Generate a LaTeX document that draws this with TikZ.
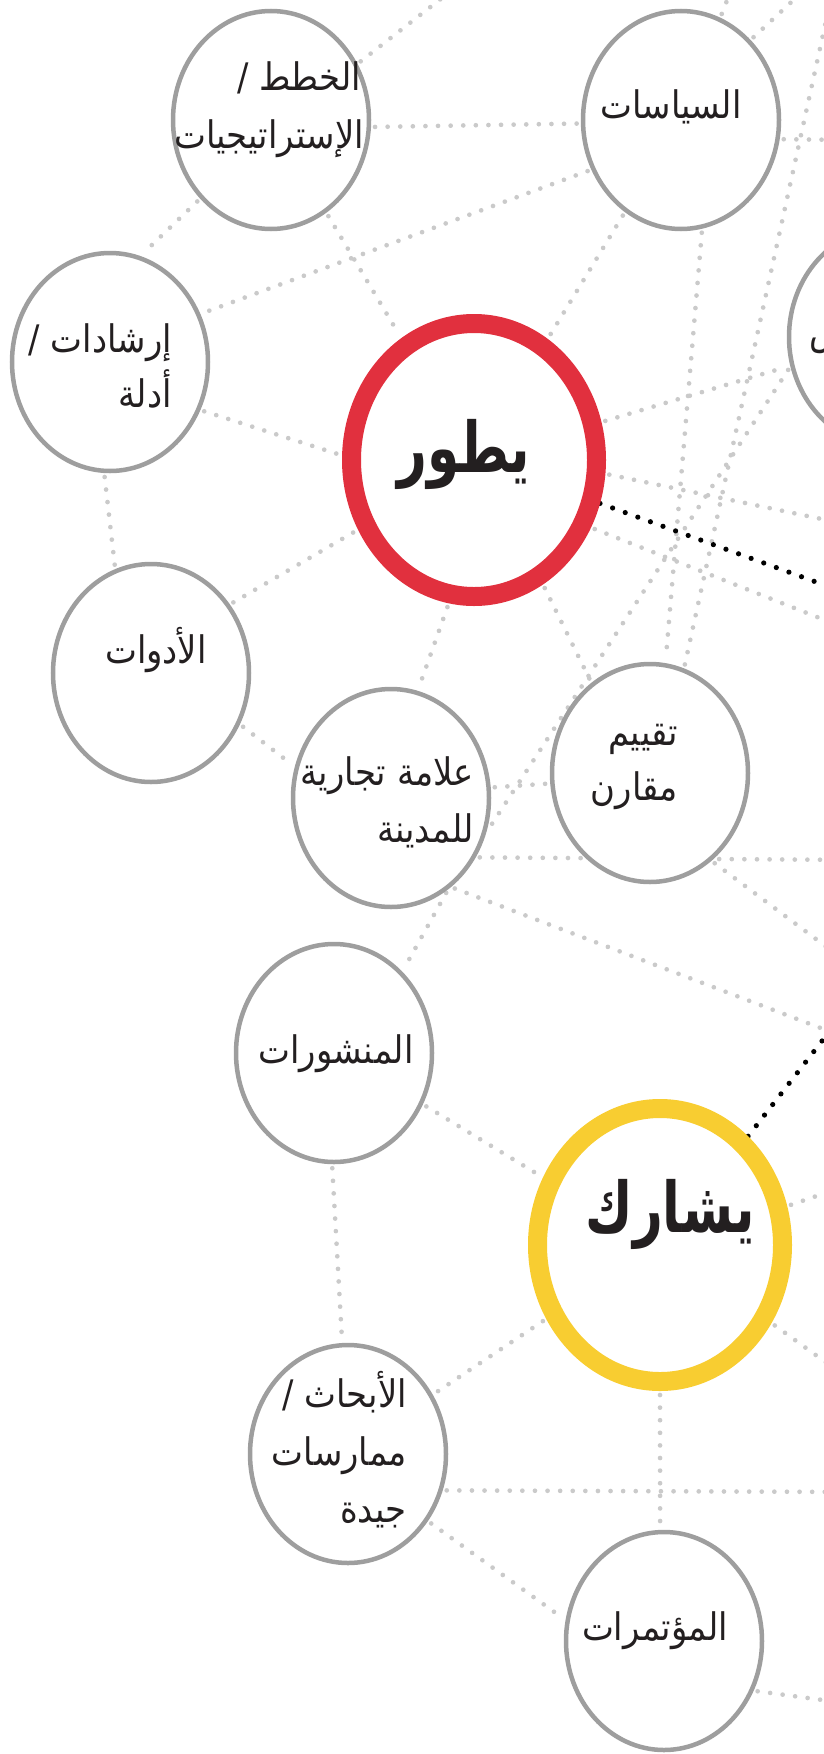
\documentclass[tikz,border=0pt]{standalone}
\usepackage{fontspec}
\newfontfamily\arfont[Script=Arabic]{DejaVu Sans}
\TeXXeTstate=1
\usetikzlibrary{shapes.geometric,backgrounds}
\definecolor{ringgray}{RGB}{158,158,158}
\definecolor{dotgray}{RGB}{202,202,202}
\definecolor{devred}{RGB}{225,48,62}
\definecolor{shareyellow}{RGB}{248,205,49}
\definecolor{ink}{RGB}{35,31,32}
\newcommand{\rtl}[1]{\scalebox{1}[1.12]{\beginR#1\endR}}
\newcommand{\rtlbig}[1]{\scalebox{1}[1.35]{\beginR#1\endR}}

\begin{document}
\begin{tikzpicture}[x=1bp,y=-1bp,
  topic/.style={ellipse, draw=ringgray, line width=4.5bp, fill=white,
    minimum width=196bp, minimum height=218bp, inner sep=0pt},
  verb/.style={ellipse, line width=19bp, fill=white,
    minimum width=245bp, minimum height=273bp, inner sep=0pt},
  lbl/.style={text=ink, font=\arfont\fontsize{34}{40}\selectfont, inner sep=0pt},
  verblbl/.style={text=ink, font=\arfont\bfseries\fontsize{52}{60}\selectfont, inner sep=0pt},
  link/.style={dotgray, line width=4.7bp, line cap=round,
    dash pattern=on 0bp off 12.6bp, shorten <=4bp, shorten >=4bp},
  outlink/.style={link, shorten >=0bp},
  strong/.style={black, line width=5.2bp, line cap=round,
    dash pattern=on 0bp off 13.4bp}]

\useasboundingbox (0,0) rectangle (824,1754);
\clip (0,0) rectangle (824,1754);

% topic and verb nodes
\node[topic] (khutat)    at (271,120)  {};
\node[topic] (siyasat)   at (681,120)  {};
\node[topic] (maqayis)   at (887,337)  {};
\node[topic] (irshadat)  at (110,362)  {};
\node[verb, draw=devred] (yutawir) at (474,460) {};
\node[topic] (adawat)    at (151,673)  {};
\node[topic] (alama)     at (391,798)  {};
\node[topic] (taqyim)    at (650,773)  {};
\node[topic] (manshurat) at (334,1053) {};
\node[verb, draw=shareyellow] (yusharik) at (660,1245) {};
\node[topic] (abhath)    at (348,1454) {};
\node[topic] (mutamarat) at (664,1641) {};

% labels
\node[lbl, anchor=base east] (khutat1) at (361,90)  {\rtl{الخطط /}};
\node[lbl, anchor=base east] (khutat2) at (364,148) {\rtl{الإستراتيجيات}};
\node[lbl, anchor=base] (siyasat1) at (671,118) {\rtl{السياسات}};
\node[lbl, anchor=base west] (maqayis1) at (809,344) {\rtl{المقاييس}};
\node[lbl, anchor=base east] (irshadat1) at (172,352) {\rtl{إرشادات /}};
\node[lbl, anchor=base east] (irshadat2) at (172,407) {\rtl{أدلة}};
\node[verblbl, anchor=base] (yutawir1) at (464,472) {\rtlbig{يطور}};
\node[lbl, anchor=base] (adawat1) at (156,663) {\rtl{الأدوات}};
\node[lbl, anchor=base east] (alama1) at (474,785) {\rtl{علامة تجارية}};
\node[lbl, anchor=base east] (alama2) at (474,842) {\rtl{للمدينة}};
\node[lbl, anchor=base east] (taqyim1) at (678,745) {\rtl{تقييم}};
\node[lbl, anchor=base east] (taqyim2) at (678,800) {\rtl{مقارن}};
\node[lbl, anchor=base] (manshurat1) at (336,1063) {\rtl{المنشورات}};
\node[verblbl, anchor=base] (yusharik1) at (670,1232) {\rtlbig{يشارك}};
\node[lbl, anchor=base east] (abhath1) at (407,1407) {\rtl{الأبحاث /}};
\node[lbl, anchor=base east] (abhath2) at (407,1465) {\rtl{ممارسات}};
\node[lbl, anchor=base east] (abhath3) at (407,1522) {\rtl{جيدة}};
\node[lbl, anchor=base] (mutamarat1) at (655,1640) {\rtl{المؤتمرات}};

% loose ends of links leaving the sheet
\coordinate (offK)   at (465,-20);
\coordinate (offS1)  at (735,-20);
\coordinate (offS2)  at (815,-20);
\coordinate (offS3)  at (850,140);
\coordinate (offT1)  at (835,-20);
\coordinate (offY1)  at (860,527);
\coordinate (offY2)  at (860,634);
\coordinate (offYb)  at (860,598);
\coordinate (offB1)  at (860,860);
\coordinate (offB2)  at (860,1043);
\coordinate (offT2)  at (860,972);
\coordinate (offShb) at (860,992);
\coordinate (offSh1) at (860,1181);
\coordinate (offSh2) at (860,1387);
\coordinate (offR)   at (860,1492);
\coordinate (offC)   at (860,1705);

\begin{pgfonlayer}{background}
\begin{scope}
\clip (0,0) rectangle (824,1754);
% grey dotted links
\draw[outlink] (khutat.33) -- (offK);
\draw[link] (khutat.-4) -- (siyasat.182);
\draw[link] (khutat.228) -- (irshadat.74);
\draw[link] (siyasat.209) -- (irshadat.28);
\draw[link] (khutat) -- (yutawir);
\draw[link] (siyasat) -- (yutawir);
\draw[link] (siyasat.-79) -- (taqyim.82);
\draw[outlink] (taqyim.72) -- (offT1);
\draw[outlink] (siyasat.69) -- (offS1);
\draw[outlink] (siyasat.49) -- (offS2);
\draw[outlink] (siyasat.-11) -- (offS3);
\draw[link] (yutawir) -- (maqayis);
\draw[link] (maqayis.197) -- (alama.-20);
\draw[outlink] (yutawir.-6) -- (offY1);
\draw[outlink] (yutawir.-30) -- (offY2);
\draw[link] (yutawir.-61) -- (taqyim.123);
\draw[link] (irshadat.-93) -- (adawat.109);
\draw[link] (irshadat.-28) -- (yutawir.178);
\draw[link] (adawat.41) -- (yutawir.211);
\draw[link] (adawat.-30) -- (alama.162);
\draw[link] (yutawir.-100) -- (alama.76);
\draw[link] (alama.6) -- (taqyim.186);
\draw[outlink] (alama.-35) -- (offB1);
\draw[outlink] (alama.-56) -- (offB2);
\draw[outlink] (taqyim.-55) -- (offT2);
\draw[link] (alama.-58) -- (manshurat.50);
\draw[link] (manshurat.-30) -- (yusharik.150);
\draw[link] (manshurat.-91) -- (abhath.93);
\draw[link] (yusharik.213) -- (abhath.35);
\draw[link] (yusharik.-90) -- (mutamarat.92);
\draw[outlink] (yusharik.17) -- (offSh1);
\draw[outlink] (yusharik.-35) -- (offSh2);
\draw[outlink] (abhath.-21) -- (offR);
\draw[link] (abhath.-40) -- (mutamarat.168);
\draw[outlink] (mutamarat.-29) -- (offC);
% black dotted links
\draw[strong] (yutawir.-19) -- (offYb);
\draw[strong] (yusharik.51) -- (offShb);
\end{scope}
\end{pgfonlayer}
\end{tikzpicture}
\end{document}
